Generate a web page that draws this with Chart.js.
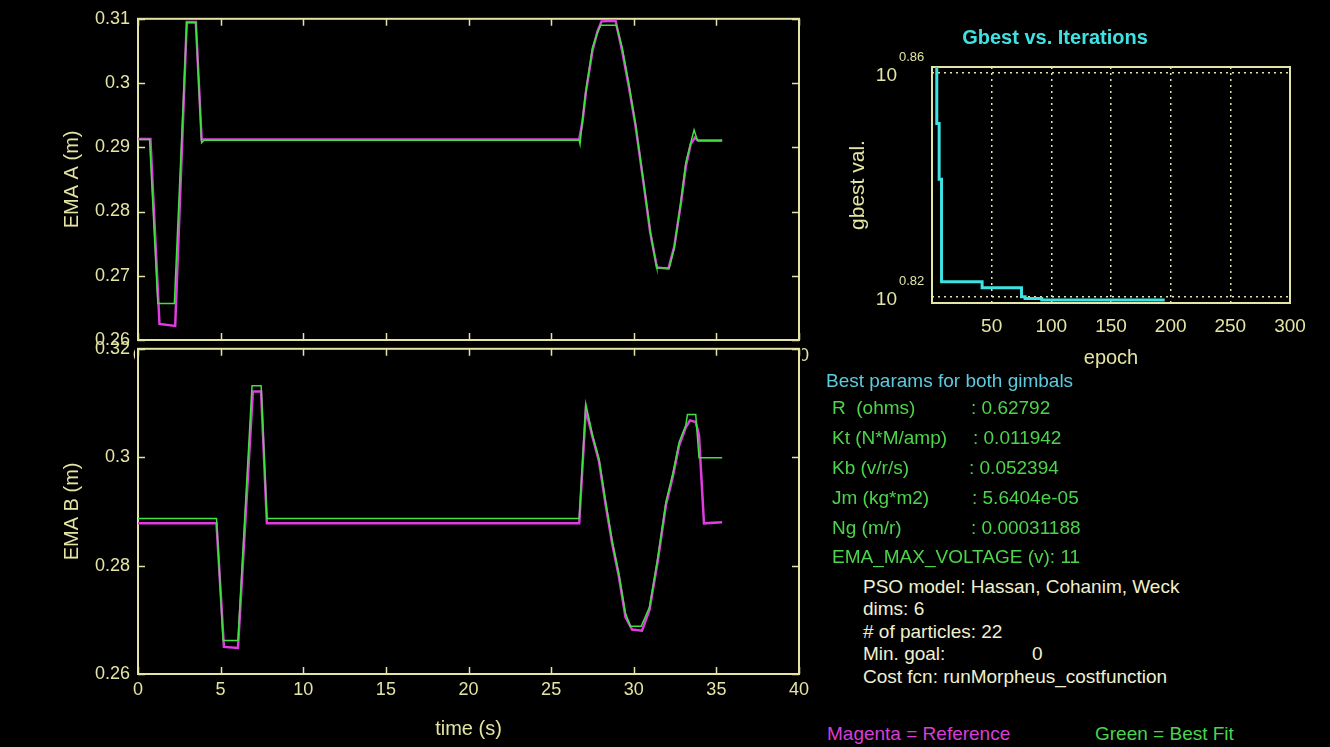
<!DOCTYPE html>
<html>
<head>
<meta charset="utf-8">
<script src="https://cdn.jsdelivr.net/npm/chart.js@4/dist/chart.umd.min.js"></script>
<style>
  html, body { margin: 0; padding: 0; background: #000; }
  body { width: 1330px; height: 747px; position: relative; overflow: hidden; font-family: "Liberation Sans", Arial, sans-serif; }
  canvas { position: absolute; }
  .t { position: absolute; font-size: 19px; line-height: 22px; white-space: pre; }
</style>
</head>
<body>
<canvas id="emaA" width="820" height="380" style="left:0;top:0"></canvas>
<canvas id="emaB" width="820" height="417" style="left:0;top:330px"></canvas>
<canvas id="gbest" width="510" height="380" style="left:820px;top:0"></canvas>
<div id="notes"></div>

<script>
// EMA A (top panel)
const refA_t = [0, 0.75, 1.3, 2.25, 2.95, 3.5, 3.85, 26.7, 26.9, 27.1, 27.5, 27.8, 28.05, 28.9, 29.3, 29.7, 30.1, 30.6, 31.0, 31.4, 32.1, 32.45, 32.85, 33.15, 33.45, 33.7, 33.9, 35.35];
const refA   = [0.2913, 0.2913, 0.2625, 0.2622, 0.3095, 0.3095, 0.2912, 0.2912, 0.2940, 0.2985, 0.3050, 0.3080, 0.3096, 0.3097, 0.3050, 0.2995, 0.2935, 0.2843, 0.2767, 0.2713, 0.2711, 0.2745, 0.2812, 0.2870, 0.2905, 0.2915, 0.2910, 0.2910];
const fitA_t = [0, 0.7, 1.2, 2.2, 2.95, 3.5, 3.85, 4.0, 26.7, 26.75, 26.9, 27.1, 27.5, 27.8, 28.0, 28.95, 29.3, 29.7, 30.1, 30.6, 31.0, 31.35, 31.4, 32.15, 32.45, 32.85, 33.15, 33.45, 33.65, 33.85, 35.35];
const fitA   = [0.2912, 0.2912, 0.2657, 0.2657, 0.3094, 0.3094, 0.2907, 0.2911, 0.2911, 0.2905, 0.2943, 0.2987, 0.3055, 0.3078, 0.3090, 0.3090, 0.3055, 0.2999, 0.2937, 0.2845, 0.2769, 0.2718, 0.2712, 0.2712, 0.2743, 0.2815, 0.2876, 0.2907, 0.2927, 0.2911, 0.2911];

// EMA B (bottom panel)
const refB_t = [0, 4.75, 5.2, 6.05, 6.95, 7.45, 7.8, 26.7, 27.1, 27.5, 27.9, 28.3, 28.7, 29.1, 29.5, 29.9, 30.5, 30.95, 31.45, 31.95, 32.35, 32.75, 33.15, 33.4, 33.75, 33.95, 34.25, 35.35];
const refB   = [0.2878, 0.2878, 0.2650, 0.2648, 0.3121, 0.3121, 0.2878, 0.2878, 0.3088, 0.3038, 0.2992, 0.2912, 0.2840, 0.2780, 0.2705, 0.2682, 0.2680, 0.2718, 0.2808, 0.2912, 0.2962, 0.3022, 0.3055, 0.3068, 0.3065, 0.3040, 0.2878, 0.2880];
const fitB_t = [0, 4.75, 5.15, 6.05, 6.9, 7.45, 7.8, 26.7, 27.1, 27.5, 27.9, 28.3, 28.7, 29.1, 29.5, 29.8, 30.45, 30.95, 31.45, 31.95, 32.35, 32.75, 33.15, 33.25, 33.75, 33.95, 35.35];
const fitB   = [0.2887, 0.2887, 0.2662, 0.2662, 0.3132, 0.3132, 0.2887, 0.2887, 0.3098, 0.3041, 0.2997, 0.2918, 0.2845, 0.2785, 0.2712, 0.2688, 0.2688, 0.2723, 0.2814, 0.2918, 0.2968, 0.3028, 0.3059, 0.3079, 0.3079, 0.2999, 0.2999];

// gbest history (log10 of gbest value, stepped)
const gbestEpoch = [1, 4, 6, 8, 42, 75, 78, 92, 195];
const gbestLog10 = [0.865, 0.851, 0.841, 0.8227, 0.8216, 0.8200, 0.8197, 0.8194, 0.8194];
const gbestTickExp = [0.82, 0.86];

const timeTicks = [0, 5, 10, 15, 20, 25, 30, 35, 40];
const paramNames = ['R  (ohms)', 'Kt (N*M/amp)', 'Kb (v/r/s)', 'Jm (kg*m2)', 'Ng (m/r)'];
const paramValues = ['0.62792', '0.011942', '0.052394', '5.6404e-05', '0.00031188'];
const psoLines = ['PSO model: Hassan, Cohanim, Weck', 'dims: 6', '# of particles: 22', 'Min. goal:', 'Cost fcn: runMorpheus_costfunction'];

const AXIS = '#e4e4a4';
const GREEN = '#3fe23f';
const MAGENTA = '#e03ce0';
const CYAN = '#3fe2e2';

Chart.defaults.font.family = '"Liberation Sans", Arial, sans-serif';

const toXY = (xs, ys) => xs.map((x, i) => ({ x: x, y: ys[i] }));

// matlab style box with inward ticks
const matlabBox = {
  id: 'matlabBox',
  beforeDraw(chart, args, opts) {
    if (!opts.fillBg) return;
    const a = chart.chartArea, ctx = chart.ctx;
    ctx.save();
    ctx.fillStyle = '#000';
    ctx.fillRect(a.left - 3, a.top - 1, a.width + 6, a.height + 2);
    ctx.restore();
  },
  beforeDatasetsDraw(chart, args, opts) {
    if (!opts.box) return;
    const { ctx, chartArea: a, scales: { x, y } } = chart;
    ctx.save();
    ctx.strokeStyle = AXIS;
    ctx.lineWidth = 2;
    ctx.strokeRect(a.left, a.top, a.width, a.height);
    ctx.beginPath();
    x.ticks.forEach(t => {
      const px = Math.round(x.getPixelForValue(t.value)) + 0.5;
      ctx.moveTo(px, a.bottom); ctx.lineTo(px, a.bottom - 7);
      ctx.moveTo(px, a.top); ctx.lineTo(px, a.top + 7);
    });
    y.ticks.forEach(t => {
      const py = Math.round(y.getPixelForValue(t.value)) + 0.5;
      ctx.moveTo(a.left, py); ctx.lineTo(a.left + 7, py);
      ctx.moveTo(a.right, py); ctx.lineTo(a.right - 7, py);
    });
    ctx.lineWidth = 1.5;
    ctx.stroke();
    ctx.restore();
  }
};

function emaChart(id, refT, ref, fitT, fit, yMin, yMax, yStep, yTitle, xTitle, pad, xHeight, fillBg) {
  return new Chart(document.getElementById(id), {
    type: 'line',
    data: {
      datasets: [
        { label: 'Best Fit', data: toXY(fitT, fit), borderColor: GREEN, borderWidth: 1.5, pointRadius: 0, order: 0 },
        { label: 'Reference', data: toXY(refT, ref), borderColor: MAGENTA, borderWidth: 2.5, pointRadius: 0, order: 1 }
      ]
    },
    options: {
      responsive: false,
      animation: false,
      layout: { padding: pad },
      plugins: {
        legend: { display: false },
        tooltip: { enabled: false },
        matlabBox: { box: true, fillBg: fillBg }
      },
      scales: {
        x: {
          type: 'linear', min: 0, max: 40,
          afterBuildTicks: s => { s.ticks = timeTicks.map(v => ({ value: v })); },
          afterFit: s => { s.height = xHeight; },
          grid: { display: false, drawTicks: false },
          border: { display: false },
          ticks: { color: AXIS, font: { size: 18 }, padding: 5, maxRotation: 0, autoSkip: false },
          title: { display: !!xTitle, text: xTitle, color: AXIS, font: { size: 20 }, padding: { top: 0, bottom: 6 } }
        },
        y: {
          min: yMin, max: yMax,
          afterFit: s => { s.width = 138; },
          grid: { display: false, drawTicks: false },
          border: { display: false },
          ticks: { stepSize: yStep, color: AXIS, font: { size: 18 }, padding: 8, callback: v => String(Math.round(v * 1000) / 1000) },
          title: { display: true, text: yTitle, color: AXIS, font: { size: 20 }, padding: { top: 60, bottom: 0 } }
        }
      }
    },
    plugins: [matlabBox]
  });
}

emaChart('emaA', refA_t, refA, fitA_t, fitA, 0.26, 0.31, 0.01, 'EMA A (m)', '', { left: 0, top: 14, right: 21, bottom: 0 }, 40, false);
emaChart('emaB', refB_t, refB, fitB_t, fitB, 0.26, 0.32, 0.02, 'EMA B (m)', 'time (s)', { left: 0, top: 17, right: 21, bottom: 0 }, 73, true);

// gbest panel: box + "10^x" labels
const gbestAxes = {
  id: 'gbestAxes',
  beforeDatasetsDraw(chart) {
    const { ctx, chartArea: a, scales: { y } } = chart;
    ctx.save();
    ctx.strokeStyle = AXIS;
    ctx.lineWidth = 2;
    ctx.strokeRect(a.left, a.top, a.width, a.height);
    ctx.fillStyle = AXIS;
    gbestTickExp.forEach(e => {
      const py = y.getPixelForValue(Math.pow(10, e));
      ctx.font = '19px "Liberation Sans", Arial, sans-serif';
      ctx.textAlign = 'right';
      ctx.textBaseline = 'middle';
      ctx.fillText('10', a.left - 35, py + 3);
      ctx.font = '13px "Liberation Sans", Arial, sans-serif';
      ctx.textAlign = 'left';
      ctx.fillText(String(e), a.left - 33, py - 15.5);
    });
    ctx.restore();
  }
};

new Chart(document.getElementById('gbest'), {
  type: 'line',
  data: {
    datasets: [{
      data: toXY(gbestEpoch, gbestLog10.map(e => Math.pow(10, e))),
      borderColor: CYAN, borderWidth: 3, pointRadius: 0, stepped: 'before'
    }]
  },
  options: {
    responsive: false,
    animation: false,
    layout: { padding: { left: 0, top: 0, right: 40, bottom: 0 } },
    plugins: {
      legend: { display: false },
      tooltip: { enabled: false },
      title: { display: true, text: 'Gbest vs. Iterations', color: CYAN, font: { size: 20, weight: 'bold' }, padding: { top: 26, bottom: 17 } }
    },
    scales: {
      x: {
        type: 'linear', min: 0, max: 300,
        afterFit: s => { s.height = 77; },
        grid: { color: AXIS, lineWidth: 1.5, drawTicks: false },
        border: { display: false, dash: [2, 4] },
        ticks: { stepSize: 50, color: AXIS, font: { size: 19 }, padding: 12, maxRotation: 0, autoSkip: false, callback: v => v === 0 ? '' : v },
        title: { display: true, text: 'epoch', color: AXIS, font: { size: 20 }, padding: { top: 0, bottom: 10 } }
      },
      y: {
        type: 'logarithmic',
        min: Math.pow(10, 0.8191), max: Math.pow(10, 0.8611),
        afterBuildTicks: s => { s.ticks = gbestTickExp.map(e => ({ value: Math.pow(10, e) })); },
        afterFit: s => { s.width = 112; },
        grid: { color: AXIS, lineWidth: 1.5, drawTicks: false },
        border: { display: false, dash: [2, 4] },
        ticks: { display: false },
        title: { display: true, text: 'gbest val.', color: AXIS, font: { size: 21 }, padding: { top: 26, bottom: 0 } }
      }
    }
  },
  plugins: [gbestAxes]
});

// text notes
const notes = document.getElementById('notes');
function addText(str, x, yc, color) {
  const d = document.createElement('div');
  d.className = 't';
  d.textContent = str;
  d.style.left = x + 'px';
  d.style.top = (yc - 11) + 'px';
  d.style.color = color;
  notes.appendChild(d);
}
const rowY = [408, 438, 468, 498, 528];
const valX = [971, 973, 969, 972, 971];
addText('Best params for both gimbals', 826, 381, '#5ccbe0');
paramNames.forEach((n, i) => {
  addText(n, 832, rowY[i], '#4cd44c');
  addText(': ' + paramValues[i], valX[i], rowY[i], '#4cd44c');
});
addText('EMA_MAX_VOLTAGE (v): 11', 832, 557, '#4cd44c');
const psoY = [587, 609, 632, 654, 677];
psoLines.forEach((s, i) => addText(s, 863, psoY[i], '#f0f0d0'));
addText('0', 1032, 654, '#f0f0d0');
addText('Magenta = Reference', 827, 734, '#d83ed8');
addText('Green = Best Fit', 1095, 734, '#4cd44c');
</script>
</body>
</html>
